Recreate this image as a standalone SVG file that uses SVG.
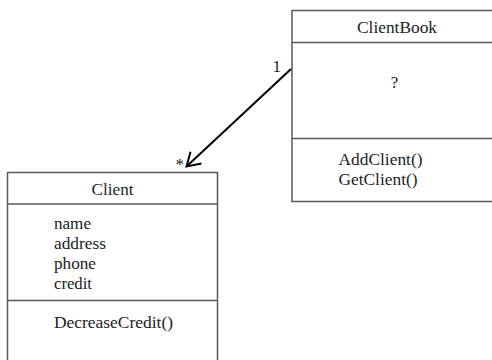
<svg xmlns="http://www.w3.org/2000/svg" width="492" height="360" viewBox="0 0 492 360">
<style>
.box{fill:#fff;stroke:#5a5a5a;stroke-width:1.5}
.sep{stroke:#5a5a5a;stroke-width:1.5}
text{font-family:"Liberation Serif","Times New Roman",serif;font-size:17px;fill:#222}
.c{text-anchor:middle}
.conn{stroke:#000;stroke-width:2;fill:none}
</style>
<defs>
<marker id="open" markerUnits="userSpaceOnUse" viewBox="0 0 16 18" refX="14" refY="9" markerWidth="16" markerHeight="18" orient="auto">
<path d="M1,1 L14,9 L1,17" fill="none" stroke="#000" stroke-width="2"/>
</marker>
</defs>
<rect width="492" height="360" fill="#fff"/>
<g id="ClientBook">
<rect class="box" x="292" y="10.5" width="220" height="191"/>
<line class="sep" x1="292" y1="42.5" x2="492" y2="42.5"/>
<line class="sep" x1="292" y1="138.5" x2="492" y2="138.5"/>
<text class="c" x="397" y="33" textLength="80" lengthAdjust="spacingAndGlyphs">ClientBook</text>
<text class="c" x="394.5" y="88">?</text>
<text x="338.5" y="165" textLength="84" lengthAdjust="spacingAndGlyphs">AddClient()</text>
<text x="338.5" y="184.5" textLength="79" lengthAdjust="spacingAndGlyphs">GetClient()</text>
</g>
<g id="Client">
<rect class="box" x="7.5" y="172.5" width="210" height="200"/>
<line class="sep" x1="7.5" y1="204" x2="217.5" y2="204"/>
<line class="sep" x1="7.5" y1="300.5" x2="217.5" y2="300.5"/>
<text class="c" x="112.5" y="194.5" textLength="42" lengthAdjust="spacingAndGlyphs">Client</text>
<text x="54" y="229" textLength="37" lengthAdjust="spacingAndGlyphs">name</text>
<text x="54" y="249" textLength="52" lengthAdjust="spacingAndGlyphs">address</text>
<text x="54" y="268.5" textLength="42" lengthAdjust="spacingAndGlyphs">phone</text>
<text x="54" y="288.5" textLength="38" lengthAdjust="spacingAndGlyphs">credit</text>
<text x="54" y="328" textLength="119" lengthAdjust="spacingAndGlyphs">DecreaseCredit()</text>
</g>
<g id="connectors">
<line class="conn" x1="291" y1="69" x2="186.5" y2="166.5" marker-end="url(#open)"/>
<text x="272.5" y="71.5">1</text>
<text x="175.5" y="170">*</text>
</g>
</svg>
